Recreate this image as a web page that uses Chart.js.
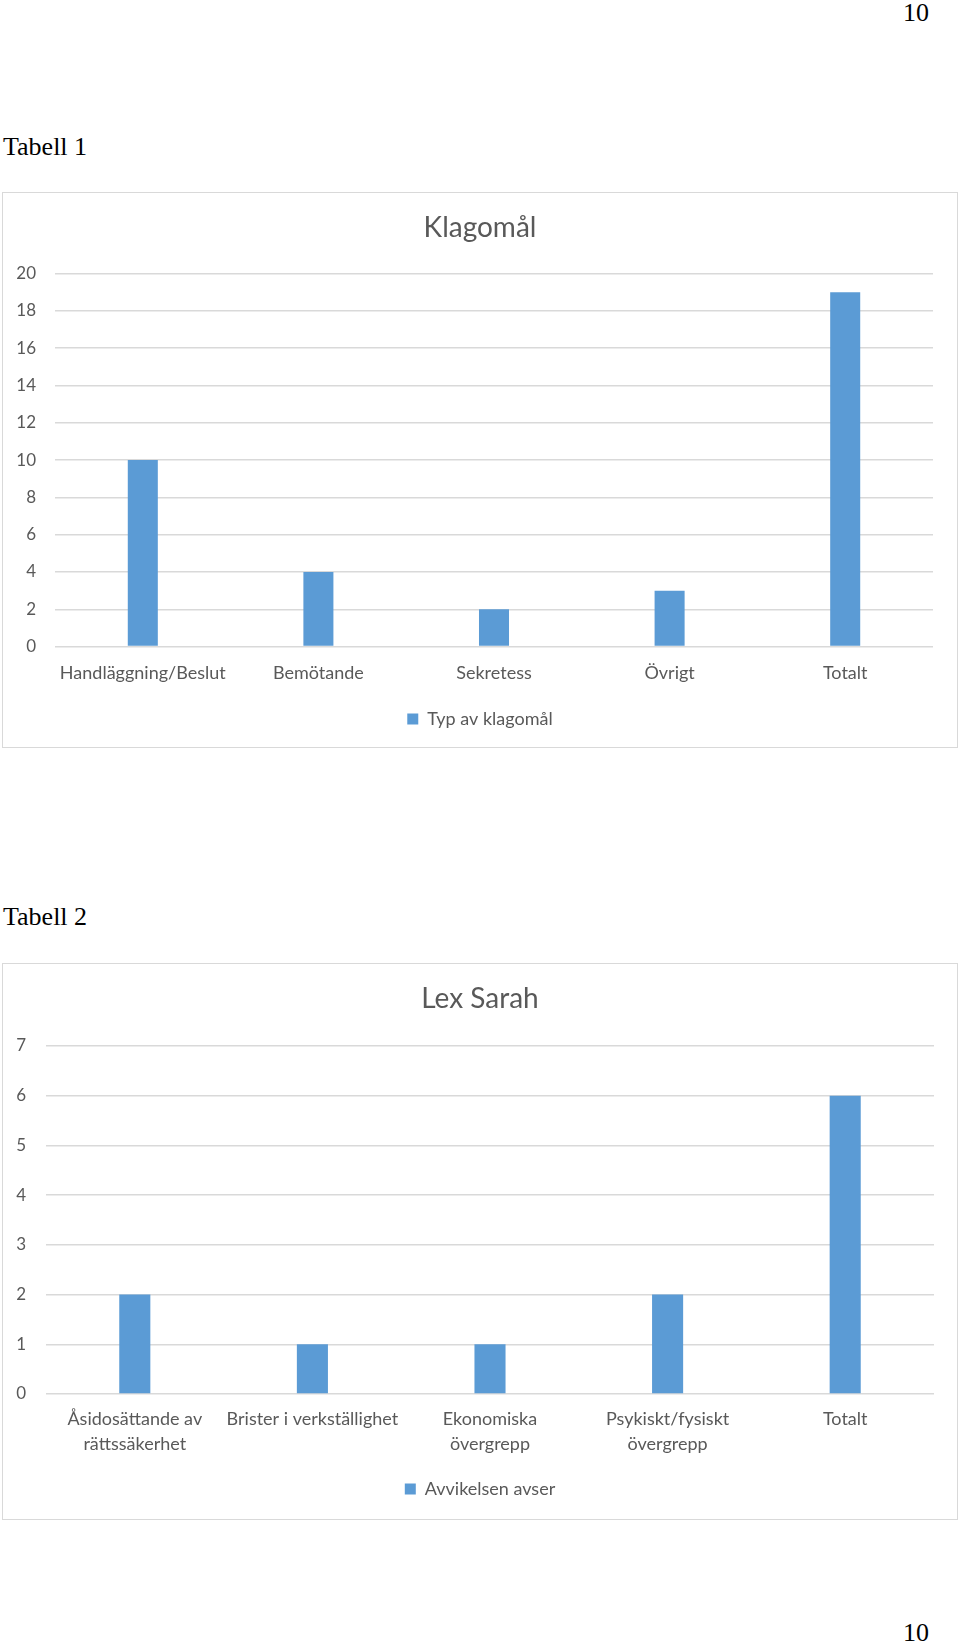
<!DOCTYPE html>
<html><head><meta charset="utf-8">
<script src="https://cdn.jsdelivr.net/npm/chart.js@4.4.1/dist/chart.umd.min.js"></script>
<style>
html,body{margin:0;padding:0;background:#fff;}
body{width:960px;height:1644px;position:relative;overflow:hidden;font-family:"Liberation Serif","Times New Roman",serif;}
.pg{position:absolute;font-size:26px;color:#000;line-height:1;}
.frame{position:absolute;border:1px solid #d9d9d9;box-sizing:border-box;}
.cv{position:absolute;}
</style></head><body>
<div class="pg" style="left:903px;top:0px;">10</div>
<div class="pg" style="left:3px;top:134px;">Tabell 1</div>
<div class="frame" style="left:2px;top:192px;width:956px;height:556px;"></div>
<div class="cv" style="left:3px;top:193px;width:954px;height:554px;"><canvas id="c1" width="954" height="554"></canvas></div>
<div class="pg" style="left:3px;top:904px;">Tabell 2</div>
<div class="frame" style="left:2px;top:963px;width:956px;height:557px;"></div>
<div class="cv" style="left:3px;top:964px;width:954px;height:555px;"><canvas id="c2" width="954" height="555"></canvas></div>
<div class="pg" style="left:903px;top:1620px;">10</div>
<script>
const klagoCategories = ["Handläggning/Beslut","Bemötande","Sekretess","Övrigt","Totalt"];
const klagoValues = [10,4,2,3,19];
const klagoSeries = "Typ av klagomål";
const klagoTitle = "Klagomål";
const klagoMax = 20, klagoStep = 2;

const lexCategories = [["Åsidosättande av","rättssäkerhet"],"Brister i verkställighet",["Ekonomiska","övergrepp"],["Psykiskt/fysiskt","övergrepp"],"Totalt"];
const lexValues = [2,1,1,2,6];
const lexSeries = "Avvikelsen avser";
const lexTitle = "Lex Sarah";
const lexMax = 7, lexStep = 1;

const FONT = "Lato, 'Open Sans', sans-serif";
const GRAY = "#595959";
const BAR = "#5B9BD5";
const GRID = "#D9D9D9";

function makeChart(id, cats, vals, series, title, max, step, L) {
  return new Chart(document.getElementById(id), {
    type: "bar",
    data: { labels: cats, datasets: [{ label: series, data: vals, backgroundColor: BAR, borderWidth: 0,
      categoryPercentage: L.cat, barPercentage: 1, yAxisID: "y" }] },
    options: {
      responsive: false, animation: false,
      layout: { padding: { left: 0, right: 0, top: 0, bottom: L.bottom } },
      plugins: {
        title: { display: true, text: title, color: GRAY, font: { family: FONT, size: 28, weight: "normal" },
          padding: { top: L.tTop, bottom: L.tBot } },
        legend: { display: true, position: "bottom",
          labels: { color: GRAY, font: { family: FONT, size: 18 }, boxWidth: 11, boxHeight: 11, padding: 10 } },
        tooltip: { enabled: false }
      },
      scales: {
        x: { grid: { display: false, drawTicks: false }, border: { display: false },
          ticks: { color: GRAY, font: { family: FONT, size: 18, lineHeight: L.lh }, padding: L.xPad, maxRotation: 0, autoSkip: false },
          afterFit: s => { s.height = L.xH; } },
        y: { min: 0, max: max, grid: { color: GRID, lineWidth: 1.5, drawTicks: false }, border: { display: false },
          ticks: { stepSize: step, color: GRAY, font: { family: FONT, size: 17 }, padding: L.yPad },
          afterFit: s => { s.width = L.yW; } },
        yR: { position: "right", min: 0, max: max, grid: { display: false, drawTicks: false }, border: { display: false },
          ticks: { display: false }, afterFit: s => { s.width = L.right; } }
      }
    }
  });
}
makeChart("c1", klagoCategories, klagoValues, klagoSeries, klagoTitle, klagoMax, klagoStep,
  { cat: 0.171, right: 24, bottom: 9, tTop: 18.2, tBot: 28.7, lh: 1.2, xPad: 15.6, xH: 53.4, yPad: 19, yW: 52 });
makeChart("c2", lexCategories, lexValues, lexSeries, lexTitle, lexMax, lexStep,
  { cat: 0.175, right: 23, bottom: 11, tTop: 18.2, tBot: 30.2, lh: 1.39, xPad: 13, xH: 76, yPad: 20, yW: 43 });
</script>
</body></html>
